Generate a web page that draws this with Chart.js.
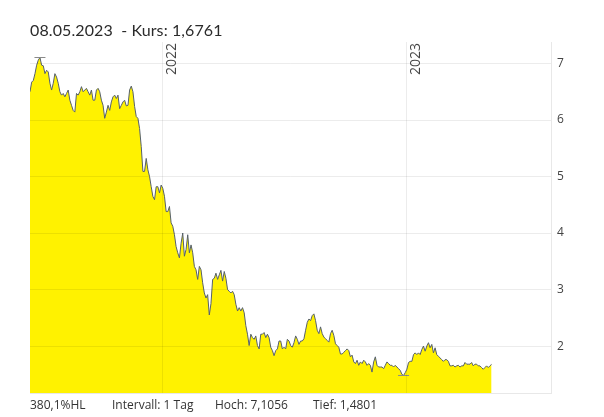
<!DOCTYPE html>
<html>
<head>
<meta charset="utf-8">
<script src="https://cdn.jsdelivr.net/npm/chart.js@4.4.1/dist/chart.umd.min.js"></script>
<style>
  html, body { margin: 0; padding: 0; background: #fff; }
  #wrap { position: relative; width: 604px; height: 417px; overflow: hidden; }
  #c { position: absolute; left: 0; top: 0; }
  #title { position: absolute; left: 30px; top: 20px; font-family: Lato, "Open Sans", sans-serif; font-size: 16px; color: #2b2b2b; white-space: pre; letter-spacing: 0.1px; }
  .foot { position: absolute; top: 396px; font-family: "Open Sans", sans-serif; font-size: 12px; color: #333; white-space: pre; }
</style>
</head>
<body>
<div id="wrap">
  <canvas id="c" width="604" height="417"></canvas>
  <div id="title">08.05.2023  - Kurs: 1,6761</div>
  <div class="foot" style="left:30px">380,1%HL</div>
  <div class="foot" style="left:112px">Intervall: 1 Tag</div>
  <div class="foot" style="left:215px">Hoch: 7,1056</div>
  <div class="foot" style="left:313px">Tief: 1,4801</div>
</div>
<script>
// ---- data ----
const startDate = '2021-06-16';
const endDate = '2023-05-08';
const axisEndDate = '2023-08-05';
const kurs = [
  6.50, 6.67, 6.70, 6.82, 6.97, 7.06, 7.1056, 6.97, 6.96, 6.82,
  6.88, 6.85, 6.65, 6.53, 6.65, 6.82, 6.76, 6.65, 6.50, 6.44,
  6.47, 6.41, 6.47, 6.53, 6.35, 6.26, 6.17, 6.14, 6.47, 6.44,
  6.50, 6.59, 6.50, 6.53, 6.56, 6.50, 6.44, 6.53, 6.35, 6.35,
  6.53, 6.56, 6.50, 6.35, 6.26, 6.03, 6.14, 6.26, 6.17, 6.32,
  6.41, 6.44, 6.38, 6.44, 6.20, 6.26, 6.32,
  6.35, 6.25, 6.26, 6.53, 6.60, 6.50, 6.24, 6.06, 6.03, 5.85,
  5.53, 5.09, 5.09, 5.32, 5.12, 5.00, 4.82, 4.65, 4.59, 4.82,
  4.82, 4.71, 4.85, 4.79, 4.65, 4.38, 4.38, 4.47, 4.18, 4.12,
  3.97, 3.76, 3.65, 3.56, 3.82, 4.00, 3.59, 3.71, 3.97, 3.65,
  3.79, 3.65, 3.41, 3.35, 3.18, 3.41, 3.35, 3.12, 2.94, 2.85,
  2.91, 2.55,
  2.75, 3.18, 3.20, 3.29, 3.18, 3.26, 3.34, 3.15, 3.32, 3.20,
  3.00, 2.97, 2.94, 2.97, 2.91, 2.74, 2.62, 2.68, 2.62, 2.68,
  2.59, 2.36, 2.21, 2.01, 2.21, 2.15, 2.12, 2.18, 2.01, 1.95,
  2.21, 2.21, 2.24, 2.15, 2.21, 2.15, 1.98, 1.92, 1.83, 1.92,
  1.95, 2.09, 2.09, 1.95, 1.98, 1.95, 2.12, 2.09, 2.01, 1.98,
  2.06, 2.18, 2.12, 2.03, 2.09, 2.09,
  2.13, 2.28, 2.42, 2.48, 2.45, 2.54, 2.57, 2.45, 2.28, 2.22,
  2.34, 2.22, 2.16, 2.13, 2.10, 2.07, 2.22, 2.28, 2.19, 2.04,
  2.01, 1.98, 1.86, 1.86, 1.89, 1.92, 1.95, 1.92, 1.81, 1.84,
  1.72, 1.69, 1.75, 1.66, 1.72, 1.69, 1.75, 1.72, 1.66, 1.69,
  1.66, 1.54, 1.72, 1.81, 1.66, 1.63, 1.63, 1.63, 1.60, 1.66,
  1.72, 1.69, 1.66, 1.66, 1.63, 1.66, 1.63, 1.60, 1.57,
  1.50, 1.4801, 1.53, 1.59, 1.71, 1.73, 1.73, 1.85, 1.88, 1.85,
  1.88, 1.85, 1.94, 2.00, 1.91, 2.00, 2.06, 1.97, 2.03, 1.88,
  1.97, 1.85, 1.82, 1.79, 1.76, 1.73, 1.76, 1.76, 1.73, 1.65,
  1.65, 1.66, 1.63, 1.65, 1.66, 1.63, 1.65, 1.65, 1.71, 1.68,
  1.68, 1.68, 1.71, 1.65, 1.68, 1.68, 1.65, 1.65, 1.62, 1.59,
  1.62, 1.65, 1.62, 1.65, 1.6761
];
const yTicks = [2, 3, 4, 5, 6, 7];
const yearLabels = ['2022', '2023'];
const yearDates = ['2022-01-01', '2023-01-01'];
const yMin = 1.17, yMax = 7.38;

// ---- helpers ----
const DAY = 86400000;
const dayOf = d => Math.round((Date.parse(d) - Date.parse(startDate)) / DAY);
const totalDays = dayOf(endDate);
const stepDays = totalDays / (kurs.length - 1);
const points = kurs.map((v, i) => ({ x: i * stepDays, y: v }));
const hi = Math.max(...kurs), lo = Math.min(...kurs);
const markers = [
  { x: kurs.indexOf(hi) * stepDays, y: hi },
  { x: kurs.indexOf(lo) * stepDays, y: lo }
];
const yearDays = yearDates.map(dayOf);

const yearLabelPlugin = {
  id: 'yearLabels',
  afterDraw(chart) {
    const ctx = chart.ctx, xs = chart.scales.x, top = chart.chartArea.top;
    ctx.save();
    ctx.font = '14px "Open Sans", sans-serif';
    ctx.fillStyle = '#444';
    ctx.textAlign = 'right';
    ctx.textBaseline = 'middle';
    yearLabels.forEach((lab, i) => {
      const px = xs.getPixelForValue(yearDays[i]);
      ctx.save();
      ctx.translate(px + 9, top + 1);
      ctx.rotate(-Math.PI / 2);
      ctx.fillText(lab, 0, 0);
      ctx.restore();
    });
    ctx.restore();
  }
};

new Chart(document.getElementById('c'), {
  type: 'line',
  data: {
    datasets: [
      {
        data: points,
        borderColor: '#56606b',
        borderWidth: 1,
        backgroundColor: '#fff200',
        fill: 'start',
        pointRadius: 0,
        tension: 0,
        order: 2
      },
      {
        data: markers,
        showLine: false,
        pointStyle: 'line',
        pointRadius: 5.5,
        borderColor: '#8a8a8a',
        pointBorderColor: '#8a8a8a',
        borderWidth: 1,
        fill: false,
        order: 1
      }
    ]
  },
  options: {
    responsive: false,
    animation: false,
    events: [],
    layout: { padding: { top: 42, left: 30, right: 0, bottom: 0 } },
    plugins: { legend: { display: false }, tooltip: { enabled: false }, title: { display: false } },
    scales: {
      x: {
        type: 'linear',
        position: 'bottom',
        min: 0,
        max: dayOf(axisEndDate),
        afterBuildTicks: s => { s.ticks = yearDays.map(v => ({ value: v })); },
        afterFit: s => { s.height = 24; },
        ticks: { display: false },
        grid: { color: 'rgba(0,0,0,0.075)', drawTicks: false, z: 1 },
        border: { display: true, color: '#e8e8e8', z: 1 }
      },
      y: {
        position: 'right',
        min: yMin,
        max: yMax,
        afterBuildTicks: s => { s.ticks = yTicks.map(v => ({ value: v })); },
        afterFit: s => { s.width = 53; },
        ticks: { color: '#444', padding: 6, font: { family: '"Open Sans", sans-serif', size: 12 } },
        grid: { color: 'rgba(0,0,0,0.075)', drawTicks: false, z: 1 },
        border: { display: true, color: '#e8e8e8', z: 1 }
      }
    }
  },
  plugins: [yearLabelPlugin]
});
</script>
</body>
</html>
